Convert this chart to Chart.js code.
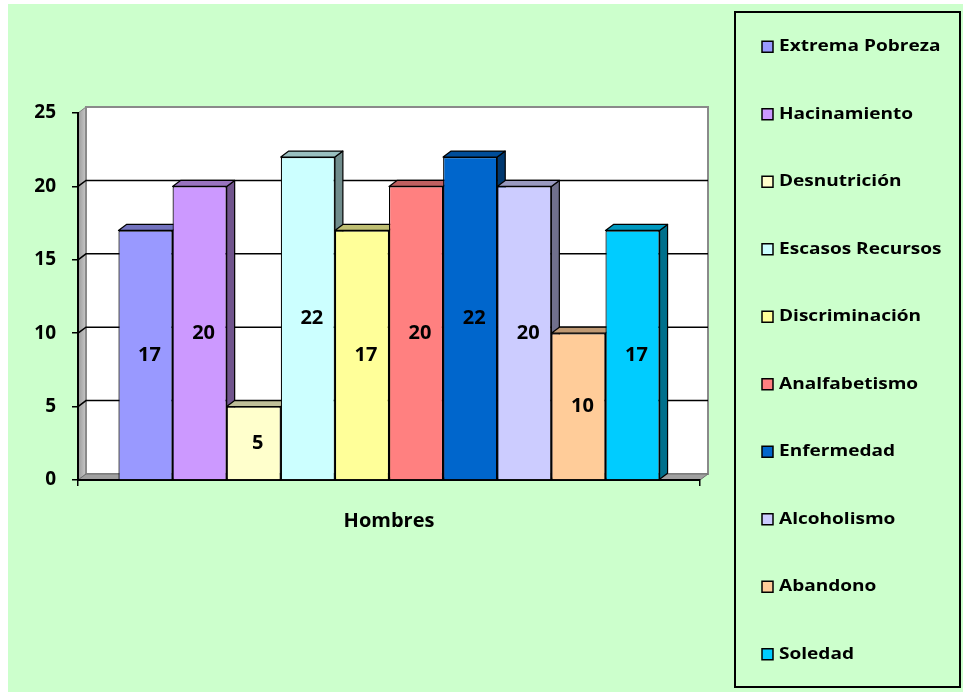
<!DOCTYPE html>
<html>
<head>
<meta charset="utf-8">
<script src="https://cdn.jsdelivr.net/npm/chart.js@4.4.0/dist/chart.umd.min.js"></script>
<style>
  html, body { margin: 0; padding: 0; background: #ffffff; }
  #marco { position: absolute; left: 8px; top: 4px; width: 955px; height: 688px; background: #ccffcc; }
</style>
</head>
<body>
<div id="marco"><canvas id="grafico"></canvas></div>
<script>
// Datos
const categorias = ['Hombres'];
const causas = ['Extrema Pobreza', 'Hacinamiento', 'Desnutrición', 'Escasos Recursos', 'Discriminación',
                'Analfabetismo', 'Enfermedad', 'Alcoholismo', 'Abandono', 'Soledad'];
const valores = [17, 20, 5, 22, 17, 20, 22, 20, 10, 17];
const ticksY = [0, 5, 10, 15, 20, 25];

const colores = ['#9999FF', '#CC99FF', '#FFFFCC', '#CCFFFF', '#FFFF99',
                 '#FF8080', '#0066CC', '#CCCCFF', '#FFCC99', '#00CCFF'];

const FUENTE = "'Open Sans', sans-serif";
const PROF_X = 8, PROF_Y = -6;   // profundidad 3D

function oscurecer(hex, f) {
    const n = parseInt(hex.slice(1), 16);
    const r = Math.round(((n >> 16) & 255) * f);
    const g = Math.round(((n >> 8) & 255) * f);
    const b = Math.round((n & 255) * f);
    return `rgb(${r},${g},${b})`;
}

// Paredes y piso
const paredes = {
    id: 'paredes',
    beforeDraw(chart) {
        const { ctx, chartArea: a } = chart;
        const y = chart.scales.y;
        ctx.save();
        // pared izquierda
        ctx.beginPath();
        ctx.moveTo(a.left, a.top);
        ctx.lineTo(a.left + PROF_X, a.top + PROF_Y);
        ctx.lineTo(a.left + PROF_X, a.bottom + PROF_Y);
        ctx.lineTo(a.left, a.bottom);
        ctx.closePath();
        const gIzq = ctx.createLinearGradient(a.left, 0, a.left + PROF_X, 0);
        gIzq.addColorStop(0, '#9a9a9a');
        gIzq.addColorStop(1, '#c8c8c8');
        ctx.fillStyle = gIzq;
        ctx.fill();
        ctx.strokeStyle = '#808080';
        ctx.lineWidth = 1;
        ctx.stroke();
        // pared del fondo
        ctx.fillStyle = '#ffffff';
        ctx.fillRect(a.left + PROF_X, a.top + PROF_Y, a.right - a.left, a.bottom - a.top);
        ctx.strokeStyle = '#8a8a8a';
        ctx.lineWidth = 2;
        ctx.strokeRect(a.left + PROF_X, a.top + PROF_Y, a.right - a.left, a.bottom - a.top);
        // piso
        ctx.beginPath();
        ctx.moveTo(a.left, a.bottom);
        ctx.lineTo(a.right, a.bottom);
        ctx.lineTo(a.right + PROF_X, a.bottom + PROF_Y);
        ctx.lineTo(a.left + PROF_X, a.bottom + PROF_Y);
        ctx.closePath();
        ctx.fillStyle = '#a0a0a0';
        ctx.fill();
        ctx.strokeStyle = '#707070';
        ctx.lineWidth = 1;
        ctx.stroke();
        // lineas de division
        ctx.strokeStyle = '#000000';
        ctx.lineWidth = 1.5;
        ticksY.slice(1, -1).forEach(v => {
            const py = y.getPixelForValue(v);
            ctx.beginPath();
            ctx.moveTo(a.left, py);
            ctx.lineTo(a.left + PROF_X, py + PROF_Y);
            ctx.lineTo(a.right + PROF_X, py + PROF_Y);
            ctx.stroke();
        });
        ctx.restore();
    }
};

// Caras laterales y superiores de las barras
const barras3d = {
    id: 'barras3d',
    beforeDatasetsDraw(chart) {
        const { ctx } = chart;
        ctx.save();
        ctx.strokeStyle = '#000000';
        ctx.lineWidth = 1.2;
        ctx.lineJoin = 'round';
        chart.data.datasets.forEach((ds, i) => {
            const el = chart.getDatasetMeta(i).data[0];
            const izq = el.x - el.width / 2, der = el.x + el.width / 2;
            const arriba = el.y, base = el.base;
            // lateral
            ctx.beginPath();
            ctx.moveTo(der, arriba);
            ctx.lineTo(der + PROF_X, arriba + PROF_Y);
            ctx.lineTo(der + PROF_X, base + PROF_Y);
            ctx.lineTo(der, base);
            ctx.closePath();
            ctx.fillStyle = oscurecer(colores[i], 0.55);
            ctx.fill();
            ctx.stroke();
            // superior
            ctx.beginPath();
            ctx.moveTo(izq, arriba);
            ctx.lineTo(der, arriba);
            ctx.lineTo(der + PROF_X, arriba + PROF_Y);
            ctx.lineTo(izq + PROF_X, arriba + PROF_Y);
            ctx.closePath();
            ctx.fillStyle = oscurecer(colores[i], 0.75);
            ctx.fill();
            ctx.stroke();
        });
        ctx.restore();
    },
    afterDatasetsDraw(chart) {
        const { ctx } = chart;
        ctx.save();
        ctx.fillStyle = '#000000';
        ctx.font = `bold 20px ${FUENTE}`;
        ctx.textAlign = 'center';
        ctx.textBaseline = 'middle';
        chart.data.datasets.forEach((ds, i) => {
            const el = chart.getDatasetMeta(i).data[0];
            ctx.fillText(String(ds.data[0]), el.x + 4, (el.y + el.base) / 2);
        });
        ctx.restore();
    }
};

// Leyenda con recuadro
const leyenda = {
    id: 'leyenda',
    afterDraw(chart) {
        const { ctx } = chart;
        const caja = { x: 727, y: 8, w: 225, h: 675 };
        ctx.save();
        ctx.strokeStyle = '#000000';
        ctx.lineWidth = 2;
        ctx.strokeRect(caja.x, caja.y, caja.w, caja.h);
        ctx.font = `bold 16px ${FUENTE}`;
        ctx.textBaseline = 'middle';
        ctx.textAlign = 'left';
        const paso = caja.h / chart.data.datasets.length;
        chart.data.datasets.forEach((ds, i) => {
            const cy = caja.y + paso * (i + 0.5) + 1;
            ctx.fillStyle = colores[i];
            ctx.fillRect(caja.x + 27, cy - 5.5, 11, 11);
            ctx.strokeStyle = '#000000';
            ctx.lineWidth = 1.5;
            ctx.strokeRect(caja.x + 27, cy - 5.5, 11, 11);
            ctx.fillStyle = '#000000';
            ctx.save();
            ctx.translate(caja.x + 44, cy);
            ctx.scale(1.19, 1);
            ctx.fillText(ds.label, 0, 0);
            ctx.restore();
        });
        ctx.restore();
    }
};

const chart = new Chart(document.getElementById('grafico'), {
    type: 'bar',
    data: {
        labels: categorias,
        datasets: causas.map((c, i) => ({
            label: c,
            data: [valores[i]],
            backgroundColor: colores[i],
            borderColor: '#000000',
            borderWidth: 1.2
        }))
    },
    options: {
        responsive: true,
        maintainAspectRatio: false,
        animation: false,
        categoryPercentage: 0.87,
        barPercentage: 1,
        layout: { padding: { left: 0, right: 263, top: 109, bottom: 0 } },
        scales: {
            x: {
                grid: { drawOnChartArea: false, drawTicks: true, tickLength: 6, color: '#000000', lineWidth: 1.5, offset: true },
                border: { color: '#000000', width: 2 },
                ticks: { color: '#000000', font: { family: FUENTE, size: 20, weight: 'bold' }, padding: 23 },
                afterFit(scale) { scale.height = 212; }
            },
            y: {
                min: 0,
                max: 25,
                afterBuildTicks(scale) { scale.ticks = ticksY.map(v => ({ value: v })); },
                grid: { drawOnChartArea: false, drawTicks: true, tickLength: 6, color: '#000000', lineWidth: 1.5 },
                border: { color: '#000000', width: 2 },
                ticks: { color: '#000000', font: { family: FUENTE, size: 19, weight: 'bold' }, padding: 16 },
                afterFit(scale) { scale.width = 70; }
            }
        },
        plugins: {
            legend: { display: false },
            tooltip: { enabled: false }
        }
    },
    plugins: [paredes, barras3d, leyenda]
});
</script>
</body>
</html>
